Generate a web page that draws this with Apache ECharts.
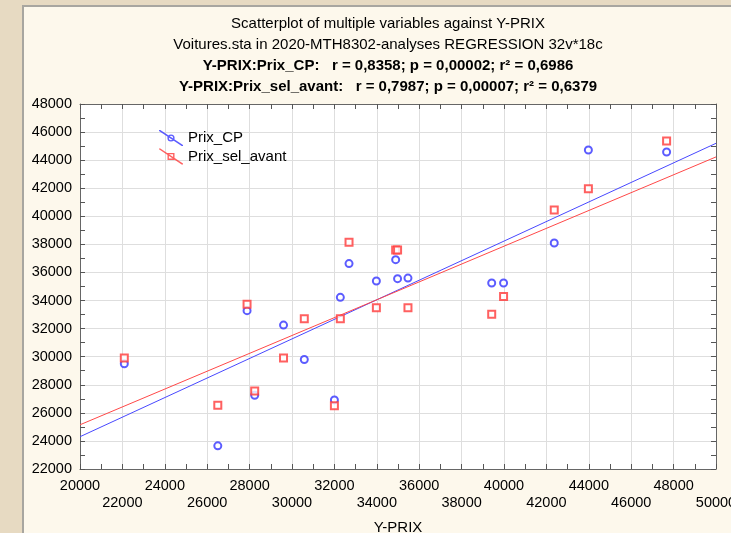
<!DOCTYPE html>
<html>
<head>
<meta charset="utf-8">
<script src="https://cdn.jsdelivr.net/npm/echarts@6/dist/echarts.min.js"></script>
<style>
  html, body { margin: 0; padding: 0; width: 731px; height: 533px; overflow: hidden; background: #e7dac2; }
  #panel { position: absolute; left: 22px; top: 5px; width: 760px; height: 560px; background: #fdf8ec; border-left: 2px solid #a8a6a0; border-top: 2px solid #a8a6a0; box-sizing: border-box; }
  #chart { position: absolute; left: 0; top: 0; width: 731px; height: 533px; }
</style>
</head>
<body>
<div id="panel"></div>
<div id="chart"></div>
<script>
// ---- data ----
const yPrix = [22090, 26500, 27880, 28240, 29600, 30580, 32000, 32280, 32690, 33980, 34890, 34980, 35470, 39420, 39980, 42370, 43980, 47670];
const prixCP = [29500, 23650, 33280, 27250, 32250, 29800, 26920, 34230, 36630, 35390, 36910, 35560, 35600, 35250, 35250, 38100, 44720, 44580];
const prixSelAvant = [29900, 26550, 33730, 27560, 29900, 32700, 26500, 32700, 38150, 33490, 37600, 37600, 33490, 33020, 34280, 40450, 41970, 45360];
// fitted regression lines (end points)
const fitX = [20000, 50000];
const fitCP = [24300, 45200];
const fitSel = [25150, 44230];
const xTicks = { min: 20000, max: 50000, interval: 2000 };
const yTicks = { min: 22000, max: 48000, interval: 2000 };
const titleLines = [
  'Scatterplot of multiple variables against Y-PRIX',
  'Voitures.sta in 2020-MTH8302-analyses REGRESSION 32v*18c',
  'Y-PRIX:Prix_CP:   r = 0,8358; p = 0,00002; r² = 0,6986',
  'Y-PRIX:Prix_sel_avant:   r = 0,7987; p = 0,00007; r² = 0,6379'
];
const seriesNames = ['Prix_CP', 'Prix_sel_avant'];
const xName = 'Y-PRIX';

// ---- chart ----
const FONT = "'Liberation Sans', Arial, sans-serif";
const BLUE = '#3333ff';
const RED = '#ff3838';
const pair = (xs, ys) => xs.map((x, i) => [x, ys[i]]);

const iconCP = 'path://M0,0 L1.3,0 L24,15.1 L24,16 L22.7,16 L0,0.9 Z M15.6,8 A3.6,3.6 0 1 1 8.4,8 A3.6,3.6 0 1 1 15.6,8 Z M14.2,8 A2.2,2.2 0 1 0 9.8,8 A2.2,2.2 0 1 0 14.2,8 Z';
const iconSel = 'path://M0,0 L1.3,0 L24,15.1 L24,16 L22.7,16 L0,0.9 Z M8.5,4.5 L15.5,4.5 L15.5,11.5 L8.5,11.5 Z M9.9,5.9 L9.9,10.1 L14.1,10.1 L14.1,5.9 Z';

const axisCommon = {
  axisLine: { show: true, lineStyle: { color: '#666666', width: 1 } },
  axisTick: { show: true, inside: true, length: 5, lineStyle: { color: '#555555', width: 1 } },
  minorTick: { show: true, splitNumber: 2, length: 5, lineStyle: { color: '#555555', width: 1 } },
};

const chart = echarts.init(document.getElementById('chart'), null, { renderer: 'canvas' });
chart.setOption({
  animation: false,
  textStyle: { fontFamily: FONT },
  title: {
    left: 383, top: 8, textAlign: 'center',
    text: `{n|${titleLines[0]}}\n{n|${titleLines[1]}}\n{b|${titleLines[2]}}\n{b|${titleLines[3]}}`,
    textStyle: {
      fontWeight: 'normal',
      rich: {
        n: { fontFamily: FONT, fontSize: 15, fontWeight: 'normal', lineHeight: 21, color: '#000' },
        b: { fontFamily: FONT, fontSize: 15, fontWeight: 'bold', lineHeight: 21, color: '#000' }
      }
    }
  },
  legend: {
    orient: 'vertical', left: 159, top: 130, padding: 0,
    itemWidth: 24, itemHeight: 16, itemGap: 2.4, itemTextGap: 7,
    textStyle: { fontFamily: FONT, fontSize: 15, color: '#000' },
    data: [
      { name: seriesNames[0], icon: iconCP, itemStyle: { color: BLUE, borderWidth: 0 } },
      { name: seriesNames[1], icon: iconSel, itemStyle: { color: RED, borderWidth: 0 } }
    ]
  },
  grid: { left: 80, top: 104, right: 15, bottom: 64, backgroundColor: '#ffffff', show: true, borderWidth: 0, outerBoundsMode: 'none', containLabel: false },
  xAxis: [
    Object.assign({
      type: 'value', position: 'bottom', min: xTicks.min, max: xTicks.max, interval: xTicks.interval,
      name: xName, nameLocation: 'middle', nameGap: 51, nameMoveOverlap: false,
      nameTextStyle: { fontFamily: FONT, fontSize: 15, color: '#000', verticalAlign: 'top' },
      axisLabel: {
        fontFamily: FONT, fontSize: 14.5, color: '#000', margin: 8, lineHeight: 17, hideOverlap: false,
        formatter: v => (((v - xTicks.min) / xTicks.interval) % 2 === 1 ? '\n' + v : String(v))
      },
      splitLine: { show: true, lineStyle: { color: '#dedede', width: 1 } }
    }, axisCommon),
    Object.assign({
      type: 'value', position: 'top', min: xTicks.min, max: xTicks.max, interval: xTicks.interval,
      axisLabel: { show: false }, splitLine: { show: false }
    }, axisCommon)
  ],
  yAxis: [
    Object.assign({
      type: 'value', position: 'left', min: yTicks.min, max: yTicks.max, interval: yTicks.interval,
      axisLabel: { fontFamily: FONT, fontSize: 14.5, color: '#000', margin: 8, formatter: v => String(v) },
      splitLine: { show: true, lineStyle: { color: '#dedede', width: 1 } }
    }, axisCommon),
    Object.assign({
      type: 'value', position: 'right', min: yTicks.min, max: yTicks.max, interval: yTicks.interval,
      axisLabel: { show: false }, splitLine: { show: false }
    }, axisCommon)
  ],
  series: [
    {
      name: seriesNames[0] + ' fit', type: 'line', data: pair(fitX, fitCP), showSymbol: false, symbol: 'none',
      lineStyle: { color: '#4848ff', width: 1 }, silent: true, z: 2
    },
    {
      name: seriesNames[1] + ' fit', type: 'line', data: pair(fitX, fitSel), showSymbol: false, symbol: 'none',
      lineStyle: { color: '#ff4848', width: 1 }, silent: true, z: 2
    },
    {
      name: seriesNames[0], type: 'scatter', data: pair(yPrix, prixCP),
      symbol: 'emptyCircle', symbolSize: 7,
      itemStyle: { color: BLUE, borderColor: BLUE, borderWidth: 1.8 }, z: 3
    },
    {
      name: seriesNames[1], type: 'scatter', data: pair(yPrix, prixSelAvant),
      symbol: 'emptyRect', symbolSize: 7,
      itemStyle: { color: RED, borderColor: RED, borderWidth: 1.6 }, z: 3
    }
  ]
});
</script>
</body>
</html>
